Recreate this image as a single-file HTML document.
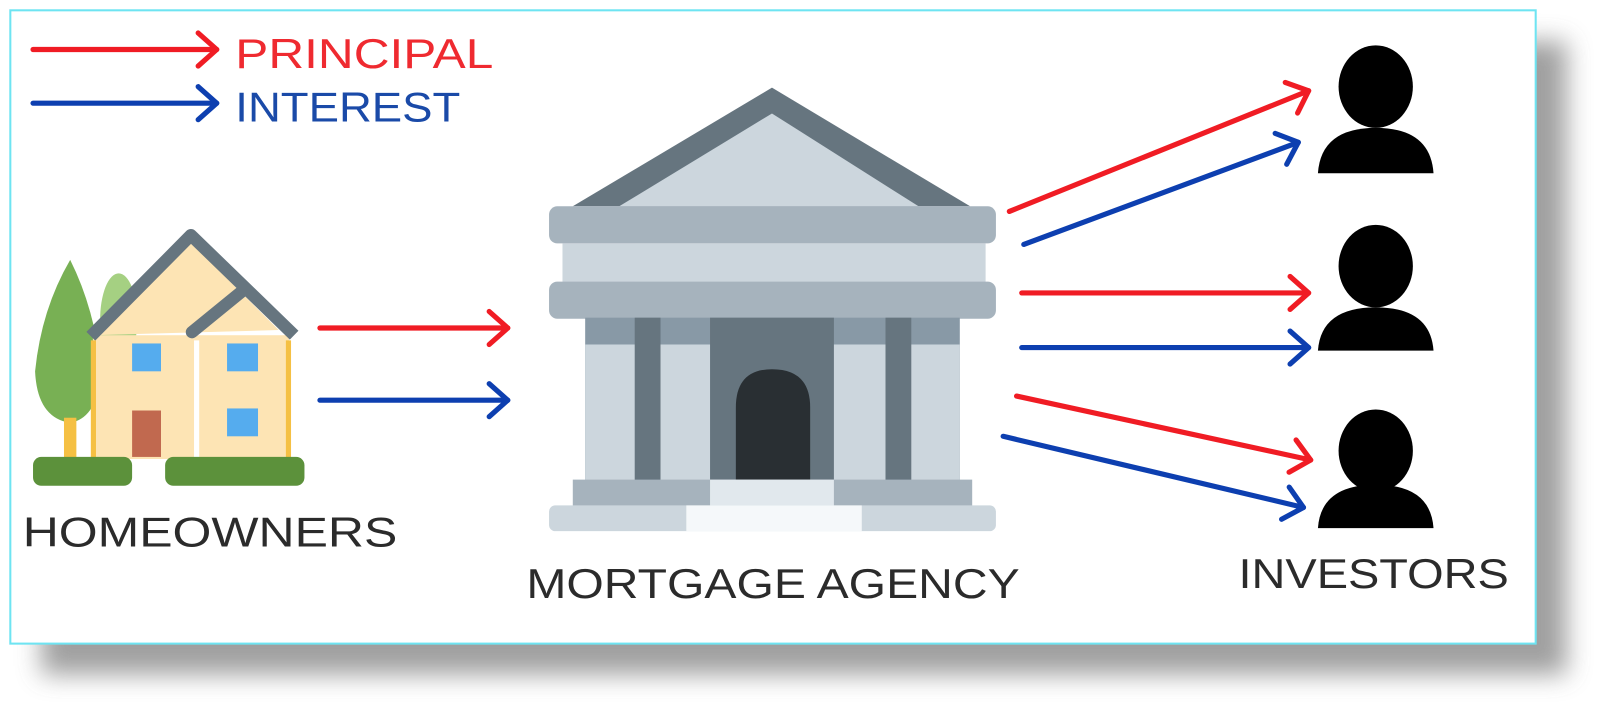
<!DOCTYPE html>
<html><head><meta charset="utf-8"><style>
html,body{margin:0;padding:0;background:#fff;}
svg{display:block;}
text{font-family:"Liberation Sans",sans-serif;}
</style></head><body>
<svg width="1610" height="722" viewBox="0 0 1560 700" preserveAspectRatio="none" xmlns="http://www.w3.org/2000/svg">
<defs>
<filter id="sh" x="-10%" y="-10%" width="130%" height="140%"><feGaussianBlur stdDeviation="12"/></filter>
<marker id="ar" viewBox="0 0 26 40" refX="22" refY="20" markerWidth="26" markerHeight="40" markerUnits="userSpaceOnUse" orient="auto"><path d="M4 4 L22 20 L4 36" fill="none" stroke="#f01c24" stroke-width="5" stroke-linecap="round" stroke-linejoin="round"/></marker>
<marker id="ab" viewBox="0 0 26 40" refX="22" refY="20" markerWidth="26" markerHeight="40" markerUnits="userSpaceOnUse" orient="auto"><path d="M4 4 L22 20 L4 36" fill="none" stroke="#0d3fb0" stroke-width="5" stroke-linecap="round" stroke-linejoin="round"/></marker>
</defs>
<rect x="40" y="40" width="1478" height="614" fill="#888" filter="url(#sh)" opacity="0.8"/>
<rect x="10" y="10" width="1478" height="614" fill="#fff" stroke="#6ee4f2" stroke-width="2"/>
<g stroke-width="5" fill="none" stroke-linecap="round">
<line x1="32" y1="48" x2="210" y2="48" stroke="#f01c24" marker-end="url(#ar)"/>
<line x1="32" y1="100" x2="210" y2="100" stroke="#0d3fb0" marker-end="url(#ab)"/>
<line x1="310" y1="318" x2="492" y2="318" stroke="#f01c24" marker-end="url(#ar)"/>
<line x1="310" y1="388" x2="492" y2="388" stroke="#0d3fb0" marker-end="url(#ab)"/>
<line x1="978" y1="205" x2="1268" y2="88" stroke="#f01c24" marker-end="url(#ar)"/>
<line x1="992" y1="237" x2="1258" y2="138" stroke="#0d3fb0" marker-end="url(#ab)"/>
<line x1="990" y1="284" x2="1268" y2="284" stroke="#f01c24" marker-end="url(#ar)"/>
<line x1="990" y1="337" x2="1268" y2="337" stroke="#0d3fb0" marker-end="url(#ab)"/>
<line x1="985" y1="384" x2="1270" y2="446" stroke="#f01c24" marker-end="url(#ar)"/>
<line x1="972" y1="423" x2="1263" y2="492" stroke="#0d3fb0" marker-end="url(#ab)"/>
</g>
<text x="228" y="66" font-size="40" fill="#ef2a30" textLength="250" lengthAdjust="spacingAndGlyphs">PRINCIPAL</text>
<text x="228" y="118" font-size="40" fill="#1a4aa8" textLength="218" lengthAdjust="spacingAndGlyphs">INTEREST</text>
<!-- house -->
<ellipse cx="115" cy="310" rx="18" ry="45" fill="#a5d082"/>
<path d="M68 252 Q40 300 34 360 Q36 405 68 410 Q95 405 98 360 Q92 300 68 252Z" fill="#78b054"/>
<rect x="62" y="405" width="12" height="40" fill="#f5c043"/>
<rect x="90" y="325" width="190" height="120" fill="#fde4b4"/>
<path d="M90 325 L185 235 L270 320 Z" fill="#fde4b4"/>
<path d="M88 326 L185 228 L285 325" fill="none" stroke="#66757f" stroke-width="12" stroke-linejoin="round"/>
<path d="M186 322 L235 282" fill="none" stroke="#66757f" stroke-width="12" stroke-linecap="round"/>
<rect x="88" y="330" width="5" height="115" fill="#f5c043"/>
<rect x="277" y="330" width="5" height="115" fill="#f5c043"/>
<rect x="188" y="330" width="5" height="115" fill="#fff"/>
<rect x="128" y="333" width="28" height="27" fill="#55acee"/>
<rect x="220" y="333" width="30" height="27" fill="#55acee"/>
<rect x="220" y="396" width="30" height="27" fill="#55acee"/>
<rect x="128" y="398" width="28" height="45" fill="#c1694f"/>
<rect x="32" y="443" width="96" height="28" rx="8" fill="#5c913b"/>
<rect x="160" y="443" width="135" height="28" rx="8" fill="#5c913b"/>
<text x="22" y="530" font-size="40" fill="#2b2b2b" textLength="363" lengthAdjust="spacingAndGlyphs">HOMEOWNERS</text>
<!-- bank -->
<path d="M555 200 L748 85 L940 200 Z" fill="#66757f"/>
<path d="M600 200 L748 110 L890 200 Z" fill="#ccd6dd"/>
<rect x="532" y="200" width="433" height="36" rx="8" fill="#a6b3bd"/>
<rect x="545" y="236" width="410" height="38" fill="#ccd6dd"/>
<rect x="532" y="273" width="433" height="36" rx="8" fill="#a6b3bd"/>
<rect x="567" y="308" width="363" height="160" fill="#8899a6"/>
<rect x="567" y="334" width="363" height="134" fill="#ccd6dd"/>
<rect x="615" y="308" width="25" height="160" fill="#66757f"/>
<rect x="858" y="308" width="25" height="160" fill="#66757f"/>
<rect x="688" y="308" width="120" height="160" fill="#66757f"/>
<path d="M713 465 L713 395 Q713 358 748 358 Q785 358 785 395 L785 465 Z" fill="#292f33"/>
<rect x="555" y="465" width="387" height="26" fill="#a6b3bd"/>
<rect x="688" y="465" width="120" height="26" fill="#e1e8ed"/>
<rect x="532" y="490" width="433" height="25" rx="6" fill="#ccd6dd"/>
<rect x="665" y="490" width="170" height="25" fill="#f5f8fa"/>
<text x="510" y="580" font-size="40" fill="#2b2b2b" textLength="478" lengthAdjust="spacingAndGlyphs">MORTGAGE AGENCY</text>
<!-- investors -->
<g fill="#000">
<ellipse cx="1333" cy="84" rx="36" ry="40"/>
<path d="M1277 168 Q1280 124 1333 124 Q1386 124 1389 168 Z"/>
<ellipse cx="1333" cy="258" rx="36" ry="40"/>
<path d="M1277 340 Q1280 298 1333 298 Q1386 298 1389 340 Z"/>
<ellipse cx="1333" cy="437" rx="36" ry="40"/>
<path d="M1277 512 Q1280 470 1333 470 Q1386 470 1389 512 Z"/>
</g>
<text x="1200" y="570" font-size="40" fill="#2b2b2b" textLength="262" lengthAdjust="spacingAndGlyphs">INVESTORS</text>
</svg>
</body></html>
